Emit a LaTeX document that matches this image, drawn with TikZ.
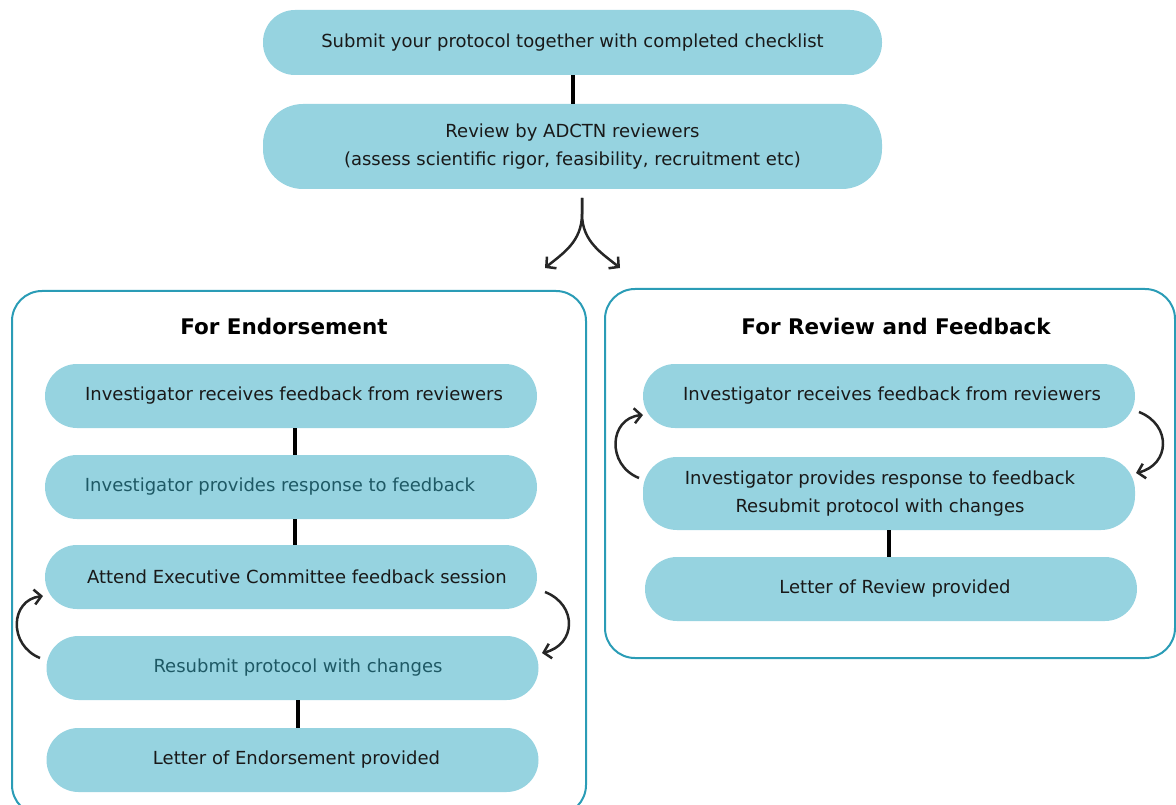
\documentclass[tikz,border=0pt]{standalone}
\usepackage{fontspec}
\setmainfont{DejaVu Sans}
\usetikzlibrary{arrows.meta}
\definecolor{boxfill}{HTML}{96D3E0}
\definecolor{panelline}{HTML}{2A9CB6}
\definecolor{darkteal}{HTML}{1E5965}
\begin{document}
\begin{tikzpicture}[x=1pt,y=-1pt,
  pill/.style={draw=none, fill=boxfill, rounded corners=32pt, minimum width=492pt, minimum height=64pt, inner sep=0pt, align=center, font=\fontsize{18}{28.5}\selectfont, text=black!90},
  panel/.style={draw=panelline, line width=2pt, rounded corners=30pt, fill=none, inner sep=0pt},
  link/.style={line width=4pt, black},
  curvy/.style={line width=2.5pt, black!85, -{Straight Barb[length=7pt,width=15pt]}},
  title/.style={font=\bfseries\fontsize{21.5}{26}\selectfont}
]
\useasboundingbox (0,0) rectangle (1176,805);
% top
\node[pill, minimum width=619pt, minimum height=65pt] (submit) at (572.5,42.5) {Submit your protocol together with completed checklist};
\node[pill, minimum width=619pt, minimum height=85pt, rounded corners=40pt] (review) at (572.5,146.5) {Review by ADCTN reviewers\\(assess scientific rigor, feasibility, recruitment etc)};
\draw[link] (submit.south) -- (review.north);
% split arrow
\coordinate (split) at (582,198);
\coordinate (splitmid) at (582,214);
\coordinate (splitL) at (545,268);
\coordinate (splitR) at (620,268);
\draw[curvy] (split) -- (splitmid) .. controls (582,242) and (562,254) .. (splitL);
\draw[curvy] (split) -- (splitmid) .. controls (582,242) and (603,254) .. (splitR);
% panels
\node[panel, minimum width=574pt, minimum height=524pt] (endpanel) at (299,553) {};
\node[panel, minimum width=570pt, minimum height=369pt] (revpanel) at (890,473.5) {};
\node[title] (endtitle) at (284,326) {For Endorsement};
\node[title] (revtitle) at (896,326) {For Review and Feedback};
% left column
\node[pill] (l1) at (291,396) {\hspace*{6pt}Investigator receives feedback from reviewers};
\node[pill, text=darkteal] (l2) at (291,487) {Investigator provides response to feedback\hspace*{22pt}};
\node[pill] (l3) at (291,577) {\hspace*{12pt}Attend Executive Committee feedback session};
\node[pill, text=darkteal] (l4) at (292.5,668) {\hspace*{11pt}Resubmit protocol with changes};
\node[pill] (l5) at (292.5,760) {\hspace*{8pt}Letter of Endorsement provided};
\draw[link] ([xshift=4pt]l1.south) -- ([xshift=4pt]l2.north);
\draw[link] ([xshift=4pt]l2.south) -- ([xshift=4pt]l3.north);
\draw[link] ([xshift=5pt]l4.south) -- ([xshift=5pt]l5.north);
\coordinate (la1) at (40,658);
\coordinate (la2) at (43,596);
\draw[curvy] (la1) .. controls (8,645) and (10,600) .. (la2);
\coordinate (lb1) at (545,592);
\coordinate (lb2) at (542,653);
\draw[curvy] (lb1) .. controls (578,605) and (576,645) .. (lb2);
% right column
\node[pill] (r1) at (889,396) {\hspace*{6pt}Investigator receives feedback from reviewers};
\node[pill, minimum height=73pt, rounded corners=34pt, font=\fontsize{18}{28}\selectfont] (r2) at (889,493.5) {Investigator provides response to feedback\hspace*{18pt}\\Resubmit protocol with changes\hspace*{18pt}};
\node[pill] (r3) at (891,589) {\hspace*{8pt}Letter of Review provided};
\draw[link] (r2.south) -- (r2.south |- r3.north);
\coordinate (ra1) at (639,478);
\coordinate (ra2) at (643,415);
\draw[curvy] (ra1) .. controls (606,465) and (609,418) .. (ra2);
\coordinate (rb1) at (1139,412);
\coordinate (rb2) at (1136,473);
\draw[curvy] (rb1) .. controls (1172,425) and (1170,465) .. (rb2);
\end{tikzpicture}
\end{document}
